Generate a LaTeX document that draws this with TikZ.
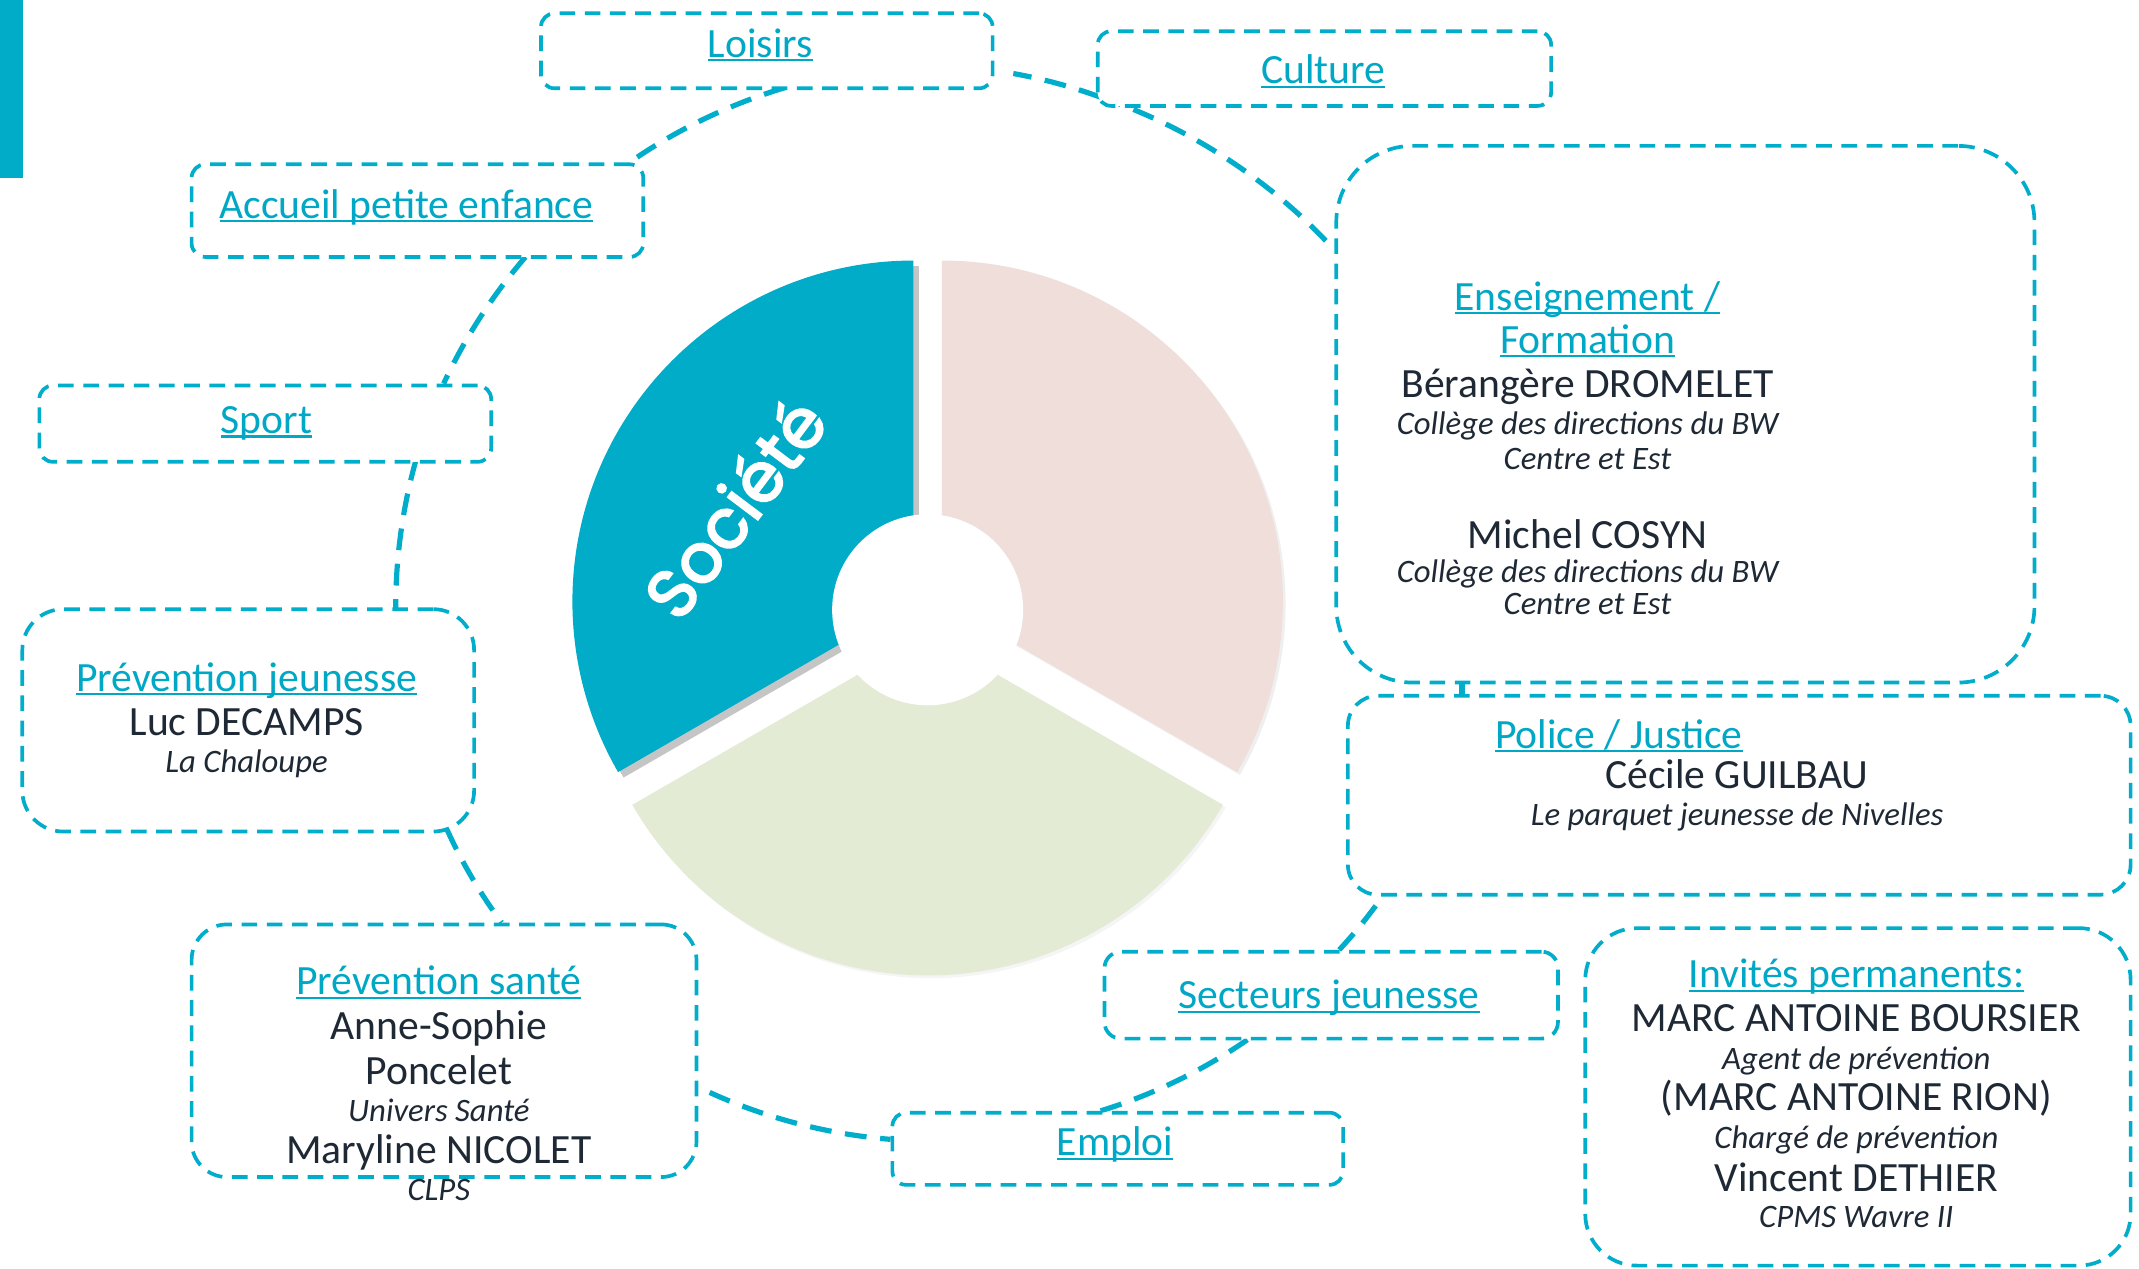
\documentclass[tikz,border=0pt]{standalone}
\usepackage{fontspec}
\setmainfont{Carlito}
\newfontfamily\socfont{Poppins}[FakeBold=3]
\usetikzlibrary{shadows}
\definecolor{cy}{HTML}{00ADCA}
\definecolor{hc}{HTML}{00A8C6}
\definecolor{soc}{HTML}{00ACC8}
\definecolor{pinkseg}{HTML}{EFDEDA}
\definecolor{greenseg}{HTML}{E3EBD4}
\definecolor{tx}{HTML}{1E2935}
\newcommand\myul[1]{\setbox0\hbox{#1}\rlap{\rule[-3pt]{\wd0}{1.6pt}}\box0}
\tikzset{
  boxst/.style={draw=cy, fill=white, line width=2.7pt, dash pattern=on 11.5pt off 7pt,
    rounded corners=#1, inner sep=0pt, anchor=north west},
  boxst/.default=10pt,
  conn/.style={draw=cy, line width=3.8pt, dash pattern=on 16pt off 10pt, looseness=0.85},
  hd/.style={font=\fontsize{30.5}{36}\selectfont, text=hc, anchor=base, inner sep=0pt},
  nm/.style={font=\fontsize{30.5}{36}\selectfont, text=tx, anchor=base, inner sep=0pt},
  itx/.style={font=\fontsize{24}{28}\selectfont\itshape, text=tx, anchor=base, inner sep=0pt},
  soctext/.style={rotate=53, font=\socfont\fontsize{50}{58}\selectfont, inner sep=0pt},
}
\begin{document}
\begin{tikzpicture}[x=1pt,y=1pt]
\useasboundingbox (0,0) rectangle (1568,-930.2);
\fill[white] (0,0) rectangle (1568,-930.2);
% left bar
\fill[soc] (0,0) rectangle (16.5,-130.7);

% donut
\fill[pinkseg, drop shadow={shadow xshift=2pt, shadow yshift=-2pt, opacity=0.12}]
  (690.4,-441) -- ++(90:250) arc[start angle=90, end angle=-30, radius=250] -- cycle;
\fill[greenseg, drop shadow={shadow xshift=2pt, shadow yshift=-2pt, opacity=0.08}]
  (680,-465) -- ++(210:250) arc[start angle=210, end angle=330, radius=250] -- cycle;
\fill[soc, drop shadow={shadow xshift=4pt, shadow yshift=-4pt, opacity=0.45}]
  (669.6,-441) -- ++(90:250) arc[start angle=90, end angle=210, radius=250] -- cycle;
\fill[white] (680,-447) circle[radius=70];
\node[soctext, text=white] (soctxt) at (538,-372) {Société};

% connector end points
\coordinate (a1) at (575.3,-64.3);
\coordinate (a2) at (462.7,-118.2);
\coordinate (b1) at (385.2,-188.4);
\coordinate (b2) at (325.2,-281.2);
\coordinate (c1) at (305.1,-336.6);
\coordinate (c2) at (290.1,-445.8);
\coordinate (d1) at (327.7,-608.2);
\coordinate (d2) at (367.7,-676.3);
\coordinate (e1) at (520.2,-800.8);
\coordinate (e2) at (652.8,-835.2);
\coordinate (f1) at (806.8,-814.3);
\coordinate (f2) at (916.8,-760.5);
\coordinate (g1) at (981.7,-696.3);
\coordinate (g2) at (1014.2,-656);
\coordinate (h1) at (971.9,-176.5);
\coordinate (h2) at (806,-71);
\coordinate (h3) at (742.8,-53.9);
\coordinate (i1) at (1071.7,-499);
\coordinate (i2) at (1071.7,-509);

\draw[conn] (a1) to[bend right=9] (a2);
\draw[conn] (b1) to[bend right=8] (b2);
\draw[conn] (c1) to[bend right=8] (c2);
\draw[conn] (d1) to[bend right=6] (d2);
\draw[conn] (e1) to[bend right=10] (e2);
\draw[conn] (f1) to[bend right=9] (f2);
\draw[conn] (g1) to[bend right=4] (g2);
\draw[conn] (h1) to[bend right=14] (h2);
\draw[conn] (h2) to[bend right=5] (h3);

% boxes
\node[boxst, minimum width=331.1pt, minimum height=55pt] (loisirs) at (395.2,-8.4) {};
\node[boxst, minimum width=332.4pt, minimum height=54.8pt] (culture) at (803.3,-21.5) {};
\node[boxst, minimum width=331.1pt, minimum height=67.9pt] (accueil) at (139.1,-119.1) {};
\node[boxst, minimum width=331.2pt, minimum height=56pt] (sport) at (27.5,-281.2) {};
\node[boxst=56pt, minimum width=511.8pt, minimum height=393.4pt] (enseign) at (978.2,-105.6) {};
\node[boxst=30pt, minimum width=331.2pt, minimum height=163pt] (pj) at (15,-445.2) {};
\node[boxst=22pt, minimum width=573.8pt, minimum height=145.8pt] (police) at (986.7,-508.7) {};
\node[boxst=26pt, minimum width=370.1pt, minimum height=185.2pt] (ps) at (139.1,-676.3) {};
\node[boxst=12pt, minimum width=332.4pt, minimum height=63.7pt] (secteurs) at (808.3,-696.3) {};
\node[boxst, minimum width=330.4pt, minimum height=52.9pt] (emploi) at (652.8,-814.3) {};
\node[boxst=38pt, minimum width=399.8pt, minimum height=247.4pt] (invites) at (1160.7,-679) {};

\draw[conn, dash pattern=on 10pt off 0pt] (i1) -- (i2);

% texts
\node[hd] (t1) at (557.3,-41.9) {\myul{Loisirs}};
\node[hd] (t2) at (970,-61.3) {\myul{Culture}};
\node[hd] (t3) at (297.9,-160.1) {\myul{Accueil petite enfance}};
\node[hd] (t4) at (195.3,-317.8) {\myul{Sport}};

\node[hd] (t5) at (1163.7,-227.4) {\myul{Enseignement /}};
\node[hd] (t6) at (1163.7,-258.8) {\myul{Formation}};
\node[nm] (t7) at (1163.7,-291.7) {Bérangère DROMELET};
\node[itx] (t8) at (1163.7,-318.6) {Collège des directions du BW};
\node[itx] (t9) at (1163.7,-344.1) {Centre et Est};
\node[nm] (t10) at (1163.7,-401.8) {Michel COSYN};
\node[itx] (t11) at (1163.7,-427.3) {Collège des directions du BW};
\node[itx] (t12) at (1163.7,-450.3) {Centre et Est};

\node[hd] (t13) at (180.8,-506.6) {\myul{Prévention jeunesse}};
\node[nm] (t14) at (180.8,-539.5) {Luc DECAMPS};
\node[itx] (t15) at (180.8,-566.4) {La Chaloupe};

\node[hd] (t16) at (321.7,-729.2) {\myul{Prévention santé}};
\node[nm] (t17) at (321.7,-762) {Anne-Sophie};
\node[nm] (t18) at (321.7,-794.9) {Poncelet};
\node[itx] (t19) at (321.7,-821.8) {Univers Santé};
\node[nm] (t20) at (321.7,-853.2) {Maryline NICOLET};
\node[itx] (t21) at (321.7,-880) {CLPS};

\node[hd] (t22) at (1186.7,-548.5) {\myul{Police / Justice}};
\node[nm] (t23) at (1273.1,-577.7) {Cécile GUILBAU};
\node[itx] (t24) at (1273.4,-605.2) {Le parquet jeunesse de Nivelles};

\node[hd] (t25) at (974.2,-739.6) {\myul{Secteurs jeunesse}};
\node[hd] (t26) at (817.5,-847.2) {\myul{Emploi}};

\node[hd] (t27) at (1360.8,-724.1) {\myul{Invités permanents:}};
\node[nm] (t28) at (1360.8,-756) {MARC ANTOINE BOURSIER};
\node[itx] (t29) at (1360.8,-783.8) {Agent de prévention};
\node[nm] (t30) at (1360.8,-814.3) {(MARC ANTOINE RION)};
\node[itx] (t31) at (1360.8,-841.8) {Chargé de prévention};
\node[nm] (t32) at (1360.8,-873.5) {Vincent DETHIER};
\node[itx] (t33) at (1360.8,-899.5) {CPMS Wavre II};
\end{tikzpicture}
\end{document}
